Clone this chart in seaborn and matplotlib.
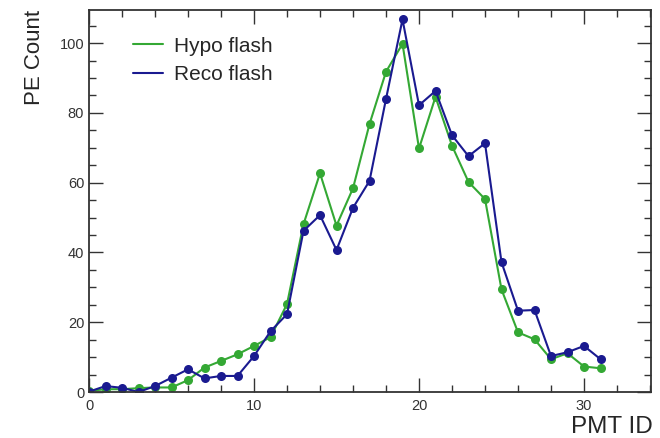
import numpy as np
import pandas as pd
import matplotlib
matplotlib.use("Agg")
import matplotlib.pyplot as plt
from matplotlib.ticker import MultipleLocator
from matplotlib.lines import Line2D
import seaborn as sns

pmt_id = list(range(32))
hypo_flash = [0.3, 0.8, 0.8, 1.1, 1.3, 1.3, 3.4, 7.0, 8.9, 10.8, 13.2, 15.7, 25.2, 48.1, 62.7, 47.7,
              58.4, 76.8, 91.8, 99.8, 69.8, 84.6, 70.6, 60.2, 55.3, 29.4, 17.1, 15.1, 9.4, 11.1, 7.3, 6.8]
reco_flash = [0.1, 1.7, 1.2, 0.0, 1.7, 4.1, 6.5, 3.9, 4.6, 4.6, 10.3, 17.4, 22.3, 46.2, 50.7, 40.7,
              52.8, 60.5, 84.0, 106.8, 82.2, 86.3, 73.6, 67.6, 71.3, 37.2, 23.3, 23.5, 10.3, 11.4, 13.2, 9.4]
series_names = ["Hypo flash", "Reco flash"]
series_colors = ["#34a834", "#1a1a90"]

df = pd.DataFrame({
    "PMT ID": pmt_id * 2,
    "PE Count": hypo_flash + reco_flash,
    "series": [series_names[0]] * len(pmt_id) + [series_names[1]] * len(pmt_id),
})

sns.set_style("ticks")
plt.rcParams["font.family"] = ["Liberation Sans", "DejaVu Sans"]

fig = plt.figure(figsize=(6.6, 4.38), dpi=100)
ax = fig.add_axes([89 / 660, 1 - 392 / 438, (651 - 89) / 660, (392 - 10) / 438])

palette = dict(zip(series_names, series_colors))
sns.lineplot(data=df, x="PMT ID", y="PE Count", hue="series", palette=palette,
             marker="o", markersize=6.5, markeredgewidth=0, linewidth=1.5, ax=ax, legend=False)

ax.set_xlim(0, 34.06)
ax.set_ylim(0, 109.5)
ax.xaxis.set_major_locator(MultipleLocator(10))
ax.xaxis.set_minor_locator(MultipleLocator(2))
ax.yaxis.set_major_locator(MultipleLocator(20))
ax.yaxis.set_minor_locator(MultipleLocator(5))
ax.tick_params(which="both", direction="in", top=True, right=True, colors="#333333",
               labelsize=10.5, width=1.0)
ax.tick_params(axis="x", which="major", pad=5)
ax.tick_params(which="major", length=10)
ax.tick_params(which="minor", length=5)
for s in ax.spines.values():
    s.set_linewidth(1.3)
    s.set_color("#333333")

ax.set_xlabel("PMT ID", fontsize=17.5)
ax.xaxis.set_label_coords(1.004, -0.064, transform=ax.transAxes)
ax.xaxis.label.set_horizontalalignment("right")
ax.xaxis.label.set_verticalalignment("top")
ax.set_ylabel("PE Count", fontsize=16)
ax.yaxis.set_label_coords(-0.078, 1.0, transform=ax.transAxes)
ax.yaxis.label.set_horizontalalignment("right")
ax.yaxis.label.set_verticalalignment("bottom")

handles = [Line2D([], [], color=c, linewidth=1.5) for c in series_colors]
ax.legend(handles, series_names, loc="upper left", bbox_to_anchor=(0.045, 0.979), frameon=False,
          fontsize=15, handlelength=1.45, handletextpad=0.5, labelspacing=0.46)

fig.savefig("out.png", dpi=100)
